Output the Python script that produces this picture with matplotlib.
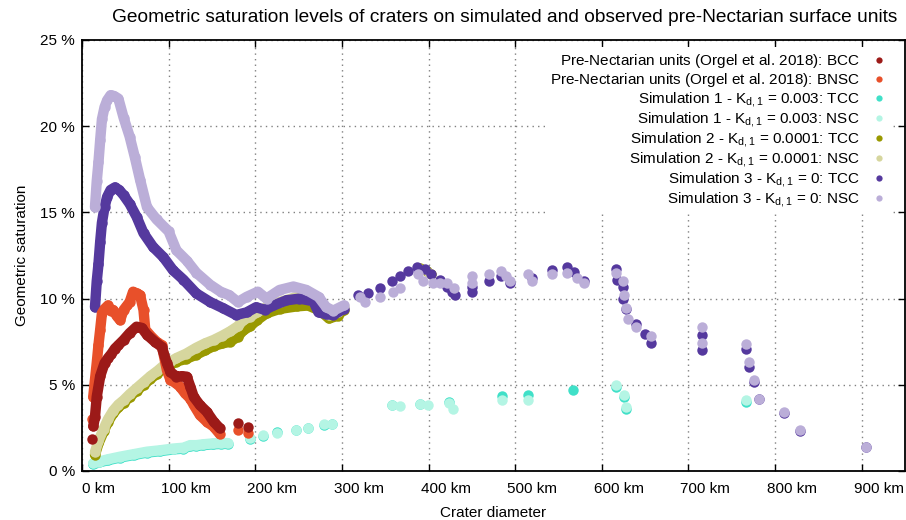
import matplotlib
matplotlib.use("Agg")
import matplotlib.pyplot as plt
import matplotlib.transforms as mtransforms

plt.rcParams["font.family"] = ["Liberation Sans", "DejaVu Sans"]
plt.rcParams["mathtext.fontset"] = "custom"
plt.rcParams["mathtext.rm"] = "Liberation Sans"
plt.rcParams["mathtext.it"] = "Liberation Sans:italic"

# ---- data (diameter in km, saturation in %) ----
# dense parts are drawn as continuous bands, the rest as single points

# Pre-Nectarian units, BCC
bcc_d = [13, 15, 17, 21, 26, 30, 34, 38, 42, 48, 55, 63, 69, 75, 84, 92, 98, 102,
         109, 115, 121, 125, 129, 136, 144, 152, 159]
bcc_s = [2.6, 3.15, 4.3, 5.5, 6.25, 6.55, 6.8, 7.1, 7.3, 7.6, 8.0, 8.37, 8.3, 7.9,
         7.5, 7.2, 6.25, 5.75, 5.47, 5.5, 5.47, 4.9, 4.3, 3.83, 3.44, 2.86, 2.48]
bcc_dot_d = [11, 180, 192]
bcc_dot_s = [1.85, 2.77, 2.57]

# Pre-Nectarian units, BNSC
bnsc_d = [13, 15, 17, 19, 21, 23, 26, 30, 33, 36, 40, 44, 48, 52, 55, 59, 63, 67,
          71, 73, 80, 86, 92, 98, 102, 108, 113, 119, 125, 129, 136, 144, 152, 159]
bnsc_s = [4.3, 5.3, 6.25, 7.3, 8.2, 9.15, 9.4, 9.6, 9.3, 9.34, 9.0, 8.75, 9.34,
          9.6, 9.8, 10.4, 10.3, 10.2, 9.34, 8.2, 7.8, 7.5, 7.3, 5.86, 5.3, 5.1,
          4.9, 4.5, 4.2, 3.83, 3.25, 2.86, 2.57, 2.15]
bnsc_dot_d = [11, 180, 192]
bnsc_dot_s = [3.0, 2.38, 2.22]

# Simulation 1
sim1_d = [13, 20, 30, 44, 60, 75, 90, 105, 117, 125, 132, 140, 151, 160, 168]
sim1_nsc = [0.45, 0.55, 0.68, 0.83, 0.98, 1.12, 1.2, 1.3, 1.35, 1.5, 1.5, 1.55,
            1.6, 1.62, 1.62]
sim1_tcc = [0.4, 0.5, 0.63, 0.78, 0.93, 1.07, 1.15, 1.25, 1.3, 1.45, 1.45, 1.5,
            1.55, 1.57, 1.57]
sim1_nsc_dot_d = [194, 209, 225, 247, 261, 279, 289, 358, 367, 390, 399, 424, 428,
                  485, 515, 616, 626, 628, 767]
sim1_nsc_dot_s = [1.9, 2.08, 2.2, 2.4, 2.5, 2.7, 2.75, 3.8, 3.75, 3.9, 3.8, 3.95,
                  3.6, 4.1, 4.1, 5.0, 4.4, 3.7, 4.1]
sim1_tcc_dot_d = [194, 209, 225, 247, 261, 279, 289, 358, 390, 424, 485, 515, 567,
                  616, 626, 628, 767]
sim1_tcc_dot_s = [1.85, 2.05, 2.25, 2.38, 2.48, 2.68, 2.72, 3.8, 3.88, 3.98, 4.35,
                  4.4, 4.7, 4.85, 4.3, 3.6, 4.0]

# Simulation 2
sim2_d = [15, 19, 25, 30, 36, 42, 48, 55, 63, 71, 79, 87, 94, 102, 109, 120, 132,
          142, 152, 162, 171, 180, 186, 194, 202, 213, 228, 248, 261, 275, 285,
          295, 302]
sim2_tcc = [0.95, 1.6, 2.3, 2.85, 3.35, 3.7, 3.95, 4.3, 4.65, 5.0, 5.35, 5.65,
            5.95, 6.15, 6.35, 6.5, 6.75, 7.0, 7.25, 7.4, 7.5, 7.8, 8.15, 8.4,
            8.75, 9.15, 9.4, 9.55, 9.6, 9.3, 8.85, 9.0, 9.35]
sim2_nsc = [1.1, 1.75, 2.45, 3.0, 3.5, 3.85, 4.1, 4.45, 4.8, 5.15, 5.5, 5.8, 6.1,
            6.35, 6.55, 6.8, 7.15, 7.4, 7.6, 7.85, 8.1, 8.4, 8.75, 8.95, 9.2,
            9.5, 9.8, 10.1, 10.0, 9.6, 9.05, 9.2, 9.5]
sim2_tcc_dot_d = [390, 398, 403]
sim2_tcc_dot_s = [11.75, 11.6, 11.45]
sim2_nsc_dot_d = [390, 400]
sim2_nsc_dot_s = [11.7, 11.5]

# Simulation 3
sim3_tcc_d = [15, 17, 19, 21, 23, 26, 29, 33, 38, 43, 48, 55, 63, 71, 82, 94, 105,
              117, 132, 148, 163, 178, 190, 201, 211, 221, 236, 251, 267, 273,
              282, 290, 302]
sim3_tcc = [9.5, 11.0, 12.0, 13.3, 14.4, 15.3, 15.9, 16.3, 16.45, 16.3, 16.0, 15.5,
            14.75, 13.8, 13.0, 12.4, 11.65, 11.1, 10.3, 9.8, 9.44, 9.05, 9.2,
            9.5, 9.35, 9.6, 9.9, 10.0, 9.85, 9.2, 9.1, 9.05, 9.4]
sim3_tcc_dot_d = [319, 330, 344, 358, 367, 376, 387, 396, 403, 413, 421, 427, 431,
                  450, 450, 470, 484, 494, 519, 543, 560, 568, 580, 616, 617, 625,
                  625, 628, 640, 650, 657, 716, 716, 767, 770, 776, 781, 810, 829,
                  905]
sim3_tcc_dot_s = [10.2, 10.3, 10.6, 11.0, 11.3, 11.6, 11.85, 11.7, 11.4, 11.1,
                  10.7, 10.4, 10.2, 10.4, 10.7, 11.0, 11.3, 10.9, 11.2, 11.65,
                  11.85, 11.55, 11.0, 11.7, 11.1, 10.7, 10.0, 9.4, 8.5, 7.95, 7.4,
                  7.9, 7.0, 7.05, 6.05, 5.15, 4.16, 3.36, 2.34, 1.37]
sim3_nsc_d = [15, 17, 19, 21, 23, 26, 29, 33, 37, 42, 48, 55, 61, 67, 75, 86, 100,
              109, 121, 132, 148, 160, 170, 180, 190, 203, 213, 228, 244, 259,
              273, 282, 290, 302]
sim3_nsc = [15.3, 16.8, 17.9, 19.2, 20.4, 21.1, 21.5, 21.8, 21.75, 21.6, 20.5,
            19.4, 18.2, 16.9, 15.3, 14.6, 13.9, 12.8, 12.2, 11.5, 10.8, 10.4,
            10.2, 9.8, 10.1, 10.4, 10.0, 10.5, 10.7, 10.5, 10.1, 9.5, 9.3, 9.6]
sim3_nsc_dot_d = [321, 327, 344, 359, 367, 388, 394, 405, 413, 421, 429, 450, 450,
                  470, 484, 490, 494, 515, 519, 543, 560, 571, 580, 616, 625, 626,
                  628, 630, 640, 657, 716, 716, 767, 770, 776, 781, 810, 829, 905]
sim3_nsc_dot_s = [10.1, 9.8, 10.1, 10.4, 10.6, 11.4, 11.0, 10.9, 10.9, 10.9, 10.6,
                  11.3, 10.9, 11.4, 11.6, 11.3, 11.0, 11.4, 11.0, 11.4, 11.5, 11.2,
                  10.9, 11.5, 11.0, 10.2, 9.45, 8.8, 8.35, 7.85, 8.35, 7.4, 7.37,
                  6.3, 5.3, 4.2, 3.4, 2.37, 1.37]

x_ticks = [0, 100, 200, 300, 400, 500, 600, 700, 800, 900]
y_ticks = [0, 5, 10, 15, 20, 25]

# ---- drawing ----
fig = plt.figure(figsize=(9.06, 5.2), dpi=100)
ax = fig.add_axes([82 / 906, 49 / 520, 823 / 906, 431 / 520])

MS = 7.5
FS = 11


def series(d, s, dot_d, dot_s, color, label):
    ax.plot(d, s, "-", color=color, lw=MS, solid_capstyle="round",
            solid_joinstyle="round", zorder=2)
    ax.plot(d, s, "o", color=color, ms=MS, mew=0, label=label, zorder=2)
    ax.plot(dot_d, dot_s, "o", color=color, ms=MS, mew=0, zorder=2)


series(sim1_d, sim1_tcc, sim1_tcc_dot_d, sim1_tcc_dot_s, "#40e0c8",
       r"Simulation 1 - K$_{\mathrm{d,1}}$ = 0.003: TCC")
series(sim1_d, sim1_nsc, sim1_nsc_dot_d, sim1_nsc_dot_s, "#b4f5e4",
       r"Simulation 1 - K$_{\mathrm{d,1}}$ = 0.003: NSC")
series(sim2_d, sim2_tcc, sim2_tcc_dot_d, sim2_tcc_dot_s, "#999900",
       r"Simulation 2 - K$_{\mathrm{d,1}}$ = 0.0001: TCC")
series(sim2_d, sim2_nsc, sim2_nsc_dot_d, sim2_nsc_dot_s, "#d6d69e",
       r"Simulation 2 - K$_{\mathrm{d,1}}$ = 0.0001: NSC")
series(sim3_tcc_d, sim3_tcc, sim3_tcc_dot_d, sim3_tcc_dot_s, "#55399e",
       r"Simulation 3 - K$_{\mathrm{d,1}}$ = 0: TCC")
series(sim3_nsc_d, sim3_nsc, sim3_nsc_dot_d, sim3_nsc_dot_s, "#bbaed8",
       r"Simulation 3 - K$_{\mathrm{d,1}}$ = 0: NSC")
# an empty subscript keeps these rows as tall as the K_d,1 rows
series(bnsc_d, bnsc_s, bnsc_dot_d, bnsc_dot_s, "#e8502a",
       r"Pre-Nectarian units (Orgel et al. 2018): BNSC$_{\mathrm{ }}$")
series(bcc_d, bcc_s, bcc_dot_d, bcc_dot_s, "#9c1a18",
       r"Pre-Nectarian units (Orgel et al. 2018): BCC$_{\mathrm{ }}$")

ax.set_xlim(0, 950)
ax.set_ylim(0, 25)
ax.set_xticks(x_ticks)
ax.set_xticklabels([f"{v} km" for v in x_ticks])
ax.set_yticks(y_ticks)
ax.set_yticklabels([f"{v} %" for v in y_ticks])
ax.tick_params(direction="in", length=5, width=1, top=True, right=True,
               labelsize=FS, colors="black")
ax.tick_params(axis="x", pad=8)
ax.tick_params(axis="y", pad=5)
for sp in ax.spines.values():
    sp.set_linewidth(1.3)

# gnuplot-style x labels sit a bit right of their ticks
off = mtransforms.ScaledTranslation(17 / 100, 0, fig.dpi_scale_trans)
for t in ax.xaxis.get_major_ticks():
    t.label1.set_transform(t.label1.get_transform() + off)

ax.grid(True, color="#808080", lw=1, linestyle=(0, (1, 3)))
ax.set_axisbelow(True)

ax.set_xlabel("Crater diameter", fontsize=FS, labelpad=7)
ax.set_ylabel("Geometric saturation", fontsize=FS, labelpad=8)
fig.text(505 / 906, 1 - 18 / 520,
         "Geometric saturation levels of craters on simulated and observed "
         "pre-Nectarian surface units", ha="center", va="center", fontsize=13.8)

# legend in gnuplot order: BCC first
h, l = ax.get_legend_handles_labels()
order = [7, 6, 0, 1, 2, 3, 4, 5]
leg = ax.legend([h[i] for i in order], [l[i] for i in order], loc="upper right",
                bbox_to_anchor=(1 - 11 / 823, 1 - 5 / 431),
                fontsize=FS, markerfirst=False, markerscale=0.6,
                frameon=True, fancybox=False, framealpha=1, edgecolor="none",
                borderaxespad=0.15, borderpad=0.3, handlelength=1.0,
                handletextpad=0.8, labelspacing=0.07)
leg.set_zorder(5)

fig.savefig("out.png", dpi=100)
